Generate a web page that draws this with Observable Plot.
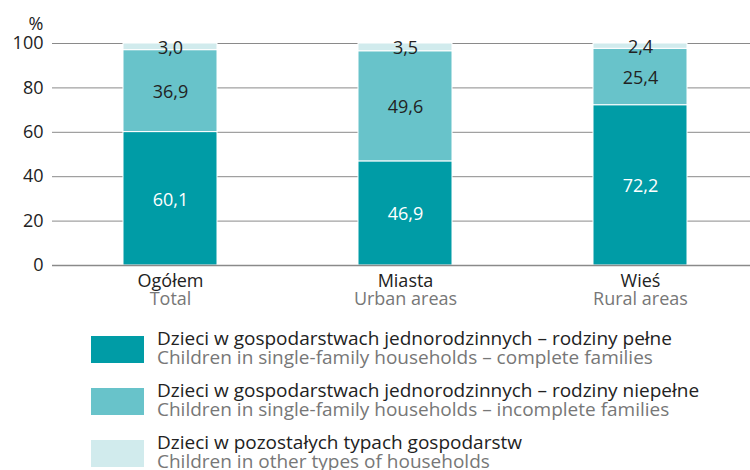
<!DOCTYPE html>
<html>
<head>
<meta charset="utf-8">
<script src="https://cdn.jsdelivr.net/npm/d3@7"></script>
<script src="https://cdn.jsdelivr.net/npm/@observablehq/plot@0.6"></script>
<style>
  body { margin: 0; background: #fff; font-family: "Open Sans", sans-serif; overflow: hidden; }
  #legend { position: relative; margin-left: 91px; margin-top: 7px; }
  .row { display: flex; align-items: flex-start; height: 52px; }
  .sw { width: 53px; height: 27px; margin-top: 7px; flex: none; }
  .txt { margin-left: 13px; font-size: 19px; line-height: 19px; white-space: nowrap; }
  .pl { color: #222; }
  .en { color: #777; }
</style>
</head>
<body>
<div id="chart"></div>
<div id="legend"></div>
<script>
const categories = ["Ogółem", "Miasta", "Wieś"];
const categoriesEn = ["Total", "Urban areas", "Rural areas"];
const seriesKeys = ["complete", "incomplete", "other"];
const seriesPl = [
  "Dzieci w gospodarstwach jednorodzinnych – rodziny pełne",
  "Dzieci w gospodarstwach jednorodzinnych – rodziny niepełne",
  "Dzieci w pozostałych typach gospodarstw"
];
const seriesEn = [
  "Children in single-family households – complete families",
  "Children in single-family households – incomplete families",
  "Children in other types of households"
];
const completeValues = [60.1, 46.9, 72.2];
const incompleteValues = [36.9, 49.6, 25.4];
const otherValues = [3.0, 3.5, 2.4];
const colors = ["#009ca6", "#68c3ca", "#d1ebed"];
const labelColors = ["#ffffff", "#222222", "#222222"];
const yTicks = [0, 20, 40, 60, 80, 100];

const valuesBySeries = [completeValues, incompleteValues, otherValues];
const data = [];
seriesKeys.forEach((s, si) => {
  categories.forEach((c, ci) => {
    data.push({cat: c, series: s, si, value: valuesBySeries[si][ci]});
  });
});

const fmt = v => v.toFixed(1).replace(".", ",");

const chart = Plot.plot({
  width: 750,
  height: 322,
  marginTop: 43,
  marginBottom: 57,
  marginLeft: 52,
  marginRight: 0,
  style: {fontFamily: "Open Sans, sans-serif", fontSize: "18px", color: "#222", background: "#fff"},
  x: {domain: categories, range: [52.5, 757.5], paddingInner: 0.6, paddingOuter: 0.3, axis: null},
  y: {domain: [0, 100], ticks: yTicks, label: null},
  color: {domain: seriesKeys, range: colors},
  marks: [
    Plot.ruleY(yTicks.filter(t => t > 0), {stroke: "#8a8a8a", strokeWidth: 1}),
    Plot.axisY({ticks: yTicks, tickSize: 0, tickPadding: 9, fontSize: 18, fill: "#222", label: null}),
    Plot.barY(data, Plot.stackY({x: "cat", y: "value", fill: "series", order: seriesKeys, stroke: "#fff", strokeWidth: 1})),
    Plot.ruleY([0], {stroke: "#8a8a8a", strokeWidth: 1.3}),
    Plot.text(data, Plot.stackY({
      x: "cat", y: "value", order: seriesKeys,
      text: d => fmt(d.value),
      fill: d => labelColors[d.si],
      dy: 1,
      fontSize: 18
    })),
    Plot.text(categories, {x: d => d, y: 0, text: d => d, dy: 9, lineAnchor: "top", fill: "#222", fontSize: 18}),
    Plot.text(categories, {x: d => d, y: 0, text: (d, i) => categoriesEn[i], dy: 27, lineAnchor: "top", fill: "#777", fontSize: 18}),
    Plot.text(["%"], {frameAnchor: "top-left", dx: -9, dy: -26, textAnchor: "end", fontSize: 18, fill: "#222"})
  ]
});
document.getElementById("chart").appendChild(chart);

const legend = document.getElementById("legend");
seriesKeys.forEach((s, i) => {
  const row = document.createElement("div");
  row.className = "row";
  row.innerHTML = `<div class="sw" style="background:${colors[i]}"></div>
    <div class="txt"><div class="pl">${seriesPl[i]}</div><div class="en">${seriesEn[i]}</div></div>`;
  legend.appendChild(row);
});
</script>
</body>
</html>
